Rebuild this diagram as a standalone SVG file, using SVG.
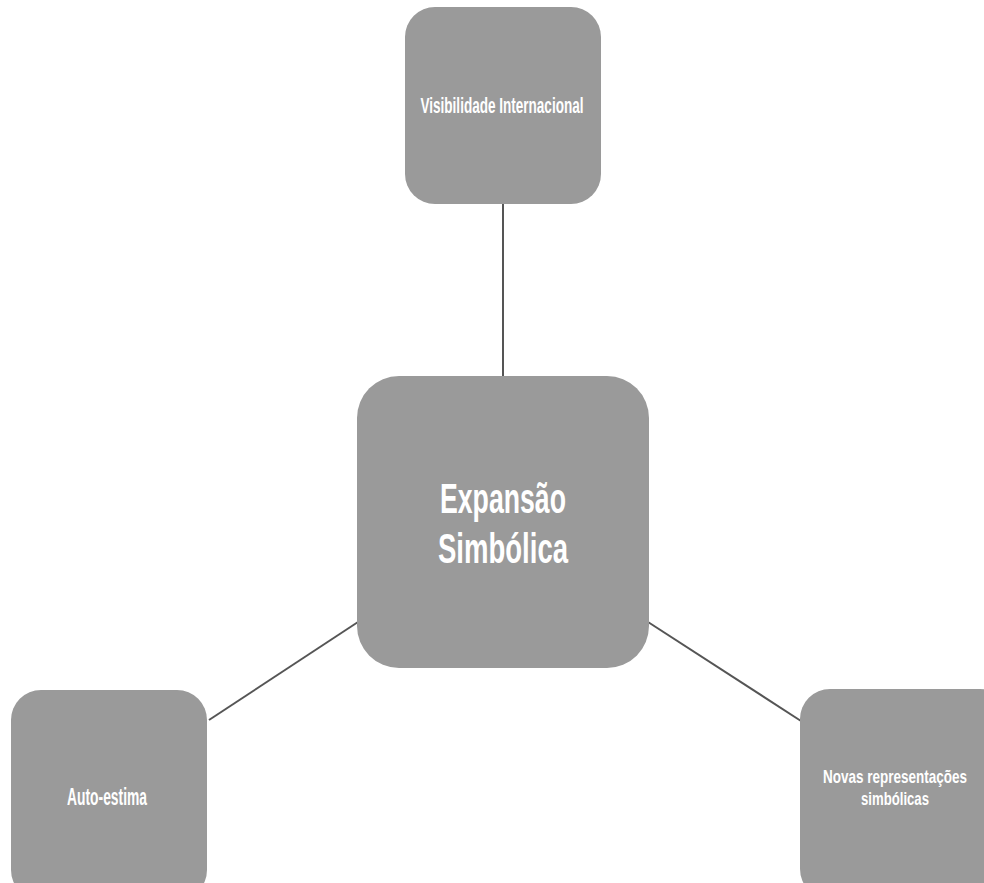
<svg xmlns="http://www.w3.org/2000/svg" width="984" height="883" viewBox="0 0 984 883">
  <style>
    .box { fill: #9a9a9a; }
    .link { stroke: #555555; stroke-width: 2; fill: none; }
    .lbl { fill: #ffffff; font-family: "Liberation Sans", "DejaVu Sans", sans-serif; font-weight: bold; text-anchor: middle; }
  </style>
  <rect width="984" height="883" fill="#ffffff"/>
  <g id="connectors">
    <line class="link" x1="503" y1="204" x2="503" y2="377"/>
    <line class="link" x1="358" y1="622" x2="209" y2="720"/>
    <line class="link" x1="648" y1="622" x2="801" y2="721"/>
  </g>
  <g id="node-center">
    <rect class="box" x="357" y="376" width="292" height="292" rx="42"/>
    <text class="lbl" x="503" y="513" font-size="42" textLength="126" lengthAdjust="spacingAndGlyphs">Expansão</text>
    <text class="lbl" x="503" y="563" font-size="42" textLength="130" lengthAdjust="spacingAndGlyphs">Simbólica</text>
  </g>
  <g id="node-top">
    <rect class="box" x="405" y="7" width="196" height="197" rx="30"/>
    <text class="lbl" x="502" y="113" font-size="22" textLength="163" lengthAdjust="spacingAndGlyphs">Visibilidade Internacional</text>
  </g>
  <g id="node-left">
    <rect class="box" x="11" y="690" width="196" height="210" rx="30"/>
    <text class="lbl" x="107" y="805" font-size="23" textLength="80" lengthAdjust="spacingAndGlyphs">Auto-estima</text>
  </g>
  <g id="node-right">
    <rect class="box" x="800" y="689" width="210" height="210" rx="30"/>
    <text class="lbl" x="895" y="783" font-size="19" textLength="144" lengthAdjust="spacingAndGlyphs">Novas representações</text>
    <text class="lbl" x="895" y="805" font-size="19" textLength="68" lengthAdjust="spacingAndGlyphs">simbólicas</text>
  </g>
</svg>
